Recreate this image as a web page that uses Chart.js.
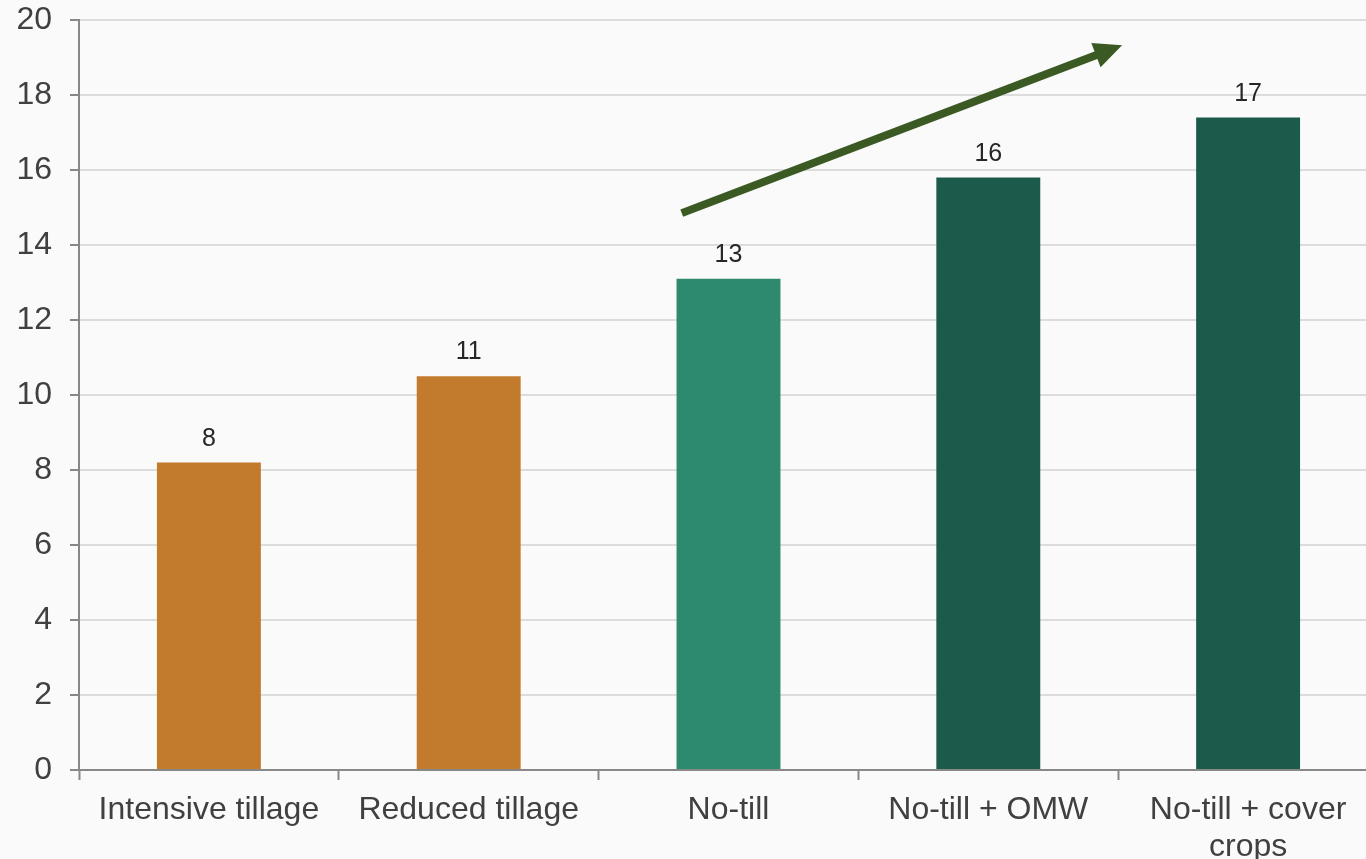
<!DOCTYPE html>
<html>
<head>
<meta charset="utf-8">
<script src="https://cdn.jsdelivr.net/npm/chart.js@4/dist/chart.umd.min.js"></script>
<style>
  html, body { margin: 0; padding: 0; background: #fafafa; overflow: hidden; }
  #wrap { position: relative; width: 1378px; height: 859px; }
</style>
</head>
<body>
<div id="wrap"><canvas id="c"></canvas></div>
<script>
// Tillage practices and their values
const categories = [
  'Intensive tillage',
  'Reduced tillage',
  'No-till',
  'No-till + OMW',
  ['No-till + cover', 'crops']
];
const values = [8.2, 10.5, 13.1, 15.8, 17.4];
const barColors = ['#c27a2c', '#c27a2c', '#2e8a6e', '#1c5a4b', '#1c5a4b'];
const yTicks = [0, 2, 4, 6, 8, 10, 12, 14, 16, 18, 20];

// Trend arrow, in (category index, value) coordinates
const arrowFrom = [1.82, 14.85];
const arrowTo = [3.515, 19.33];

const FONT = "'Liberation Sans', Arial, sans-serif";

const valueLabels = {
  id: 'valueLabels',
  afterDatasetsDraw(chart) {
    const ctx = chart.ctx;
    const meta = chart.getDatasetMeta(0);
    ctx.save();
    ctx.font = '25px ' + FONT;
    ctx.fillStyle = '#262626';
    ctx.textAlign = 'center';
    ctx.textBaseline = 'alphabetic';
    meta.data.forEach((bar, i) => {
      ctx.fillText(Math.round(values[i]).toString(), bar.x, bar.y - 17);
    });
    ctx.restore();
  }
};

const trendArrow = {
  id: 'trendArrow',
  afterDraw(chart) {
    const xs = chart.scales.x, ys = chart.scales.y;
    const x0 = xs.getPixelForValue(arrowFrom[0]), y0 = ys.getPixelForValue(arrowFrom[1]);
    const x1 = xs.getPixelForValue(arrowTo[0]), y1 = ys.getPixelForValue(arrowTo[1]);
    const ang = Math.atan2(y1 - y0, x1 - x0);
    const headLen = 28, headHalf = 13;
    const bx = x1 - headLen * Math.cos(ang), by = y1 - headLen * Math.sin(ang);
    const ctx = chart.ctx;
    ctx.save();
    ctx.strokeStyle = '#3b5a23';
    ctx.fillStyle = '#3b5a23';
    ctx.lineWidth = 8;
    ctx.lineCap = 'butt';
    ctx.beginPath();
    ctx.moveTo(x0, y0);
    ctx.lineTo(bx + 2 * Math.cos(ang), by + 2 * Math.sin(ang));
    ctx.stroke();
    ctx.beginPath();
    ctx.moveTo(x1, y1);
    ctx.lineTo(bx - headHalf * Math.sin(ang), by + headHalf * Math.cos(ang));
    ctx.lineTo(bx + headHalf * Math.sin(ang), by - headHalf * Math.cos(ang));
    ctx.closePath();
    ctx.fill();
    ctx.restore();
  }
};

new Chart(document.getElementById('c'), {
  type: 'bar',
  data: {
    labels: categories,
    datasets: [{
      data: values,
      backgroundColor: barColors,
      borderWidth: 0,
      barPercentage: 0.4,
      categoryPercentage: 1.0
    }]
  },
  options: {
    responsive: true,
    maintainAspectRatio: false,
    animation: false,
    layout: { padding: { top: 20, right: 0, left: 0, bottom: 0 } },
    plugins: { legend: { display: false }, tooltip: { enabled: false } },
    scales: {
      x: {
        grid: {
          offset: true,
          drawOnChartArea: false,
          drawTicks: true,
          tickLength: 10,
          tickColor: '#888888',
          tickWidth: 2
        },
        border: { color: '#888888', width: 2 },
        ticks: {
          color: '#404040',
          font: { family: FONT, size: 32, lineHeight: 1.15 },
          padding: 12,
          maxRotation: 0,
          autoSkip: false
        },
        afterFit(scale) {
          scale.height = 89;
          scale.paddingLeft = 0;
          scale.paddingRight = 0;
        }
      },
      y: {
        min: 0,
        max: 20,
        afterBuildTicks(scale) { scale.ticks = yTicks.map(v => ({ value: v })); },
        grid: {
          color: '#dcdcdc',
          lineWidth: 2,
          drawTicks: true,
          tickLength: 9,
          tickColor: '#888888',
          tickWidth: 2
        },
        border: { color: '#888888', width: 2 },
        ticks: {
          color: '#404040',
          font: { family: FONT, size: 32 },
          padding: 18
        },
        afterFit(scale) {
          scale.width = 79;
          scale.paddingTop = 0;
          scale.paddingBottom = 0;
        }
      }
    }
  },
  plugins: [valueLabels, trendArrow]
});
</script>
</body>
</html>
